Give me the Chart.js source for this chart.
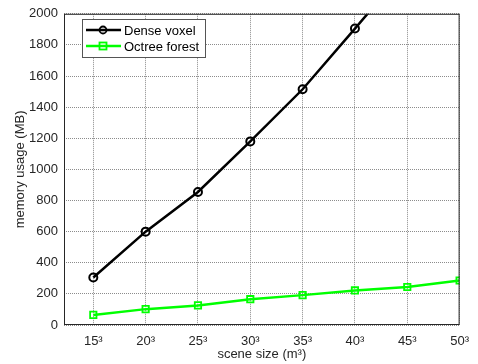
<!DOCTYPE html>
<html lang="en">
<head>
    <meta charset="UTF-8">
    <title>Memory usage vs scene size</title>
    <script src="https://cdn.jsdelivr.net/npm/chart.js"></script>
    <style>
        html, body { margin: 0; padding: 0; background: #fff; }
        #wrap { width: 478px; height: 364px; }
    </style>
</head>
<body>
    <div id="wrap"><canvas id="memChart" width="478" height="364"></canvas></div>

    <script>
        // scene edge lengths (m), plotted as 15^3 ... 50^3
        const sceneSizes = [15, 20, 25, 30, 35, 40, 45, 50];
        const denseVoxel = [305, 600, 855, 1180, 1515, 1905, 2300, 2750];
        const octreeForest = [65, 102, 126, 166, 192, 222, 244, 286];
        const yTicks = [0, 200, 400, 600, 800, 1000, 1200, 1400, 1600, 1800, 2000];

        const axisColor = '#262626';
        const gridColor = '#8c8c8c';
        const font = 'Liberation Sans, Arial, sans-serif';

        const toPoints = (vals) => sceneSizes.map((s, i) => ({ x: s, y: vals[i] }));

        // axes box + legend in the upper-left of the plot, MATLAB style
        const boxLegend = {
            id: 'boxLegend',
            afterDraw(chart) {
                const ctx = chart.ctx;
                const area = chart.chartArea;
                ctx.save();
                ctx.strokeStyle = axisColor;
                ctx.lineWidth = 1;
                ctx.strokeRect(area.left + 0.5, area.top + 0.5, area.right - area.left - 1, area.bottom - area.top - 1);

                const x0 = 82, y0 = 19, w = 123, h = 38;
                ctx.fillStyle = '#fff';
                ctx.fillRect(x0, y0, w, h);
                ctx.strokeStyle = '#555';
                ctx.strokeRect(x0 + 0.5, y0 + 0.5, w, h);

                chart.data.datasets.forEach((ds, i) => {
                    const y = y0 + 11 + i * 16;
                    ctx.strokeStyle = ds.borderColor;
                    ctx.lineWidth = 2.5;
                    ctx.beginPath();
                    ctx.moveTo(x0 + 4, y);
                    ctx.lineTo(x0 + 39, y);
                    ctx.stroke();
                    ctx.lineWidth = 1.8;
                    if (ds.pointStyle === 'circle') {
                        ctx.beginPath();
                        ctx.arc(x0 + 21, y, 3.5, 0, Math.PI * 2);
                        ctx.stroke();
                    } else {
                        ctx.strokeRect(x0 + 17.5, y - 3.5, 7, 7);
                    }
                    ctx.fillStyle = '#000';
                    ctx.font = '13px ' + font;
                    ctx.textBaseline = 'middle';
                    ctx.fillText(ds.label, x0 + 42, y + 1);
                });
                ctx.restore();
            }
        };

        const ctx = document.getElementById('memChart').getContext('2d');
        new Chart(ctx, {
            type: 'line',
            data: {
                datasets: [
                    {
                        label: 'Dense voxel',
                        data: toPoints(denseVoxel),
                        borderColor: '#000',
                        backgroundColor: 'transparent',
                        borderWidth: 2.5,
                        pointStyle: 'circle',
                        pointRadius: 4,
                        pointBorderWidth: 2,
                        pointBackgroundColor: 'transparent',
                        pointBorderColor: '#000',
                        tension: 0,
                    },
                    {
                        label: 'Octree forest',
                        data: toPoints(octreeForest),
                        borderColor: '#00ff00',
                        backgroundColor: 'transparent',
                        borderWidth: 2.5,
                        pointStyle: 'rect',
                        pointRadius: 4.5,
                        pointBorderWidth: 1.8,
                        pointBackgroundColor: 'transparent',
                        pointBorderColor: '#00ff00',
                        tension: 0,
                    },
                ],
            },
            options: {
                responsive: false,
                animation: false,
                layout: { padding: { top: 13, right: 18, left: 13, bottom: 2 } },
                plugins: {
                    legend: { display: false },
                    tooltip: { enabled: false },
                },
                scales: {
                    x: {
                        type: 'linear',
                        min: 12.2,
                        max: 50,
                        afterBuildTicks: (axis) => { axis.ticks = sceneSizes.map(v => ({ value: v })); },
                        afterFit: (axis) => { axis.height = 37; },
                        grid: { color: gridColor, drawTicks: false },
                        border: { display: false, dash: [1, 1] },
                        ticks: {
                            color: axisColor,
                            font: { family: font, size: 13 },
                            padding: 9,
                            maxRotation: 0,
                            callback: (v) => v + '\u00B3',
                        },
                        title: {
                            display: true,
                            text: 'scene size (m\u00B3)',
                            color: axisColor,
                            font: { family: font, size: 13 },
                            padding: 0,
                        },
                    },
                    y: {
                        min: 0,
                        max: 2000,
                        afterBuildTicks: (axis) => { axis.ticks = yTicks.map(v => ({ value: v })); },
                        afterFit: (axis) => { axis.width = 51; },
                        grid: { color: gridColor, drawTicks: false },
                        border: { display: false, dash: [1, 1] },
                        ticks: {
                            color: axisColor,
                            font: { family: font, size: 13 },
                            padding: 6,
                            callback: (v) => String(v),
                        },
                        title: {
                            display: true,
                            text: 'memory usage (MB)',
                            color: axisColor,
                            font: { family: font, size: 13 },
                            padding: 0,
                        },
                    },
                },
            },
            plugins: [boxLegend],
        });
    </script>
</body>
</html>
